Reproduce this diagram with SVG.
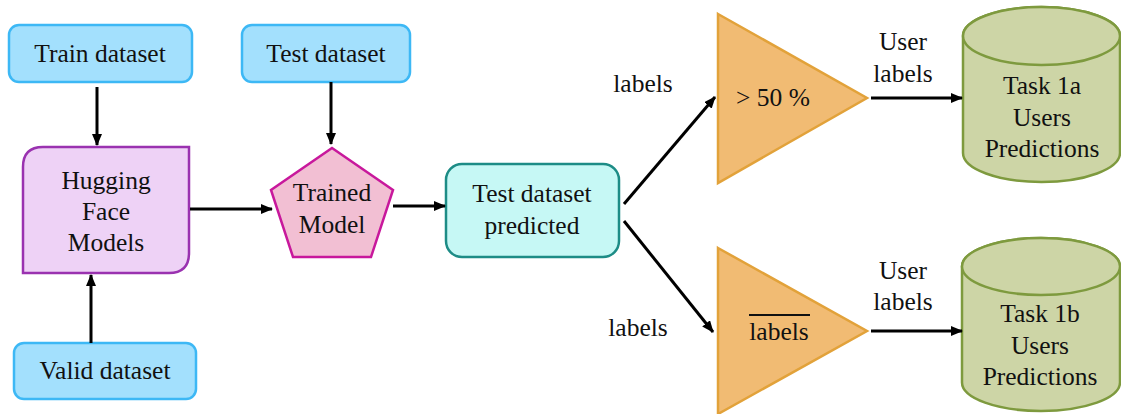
<svg xmlns="http://www.w3.org/2000/svg" width="1121" height="414" viewBox="0 0 1121 414">
  <defs>
    <marker id="arrow" viewBox="0 0 12 10" refX="11" refY="5" markerWidth="12" markerHeight="10" markerUnits="userSpaceOnUse" orient="auto">
      <path d="M0,0 L12,5 L0,10 Z" fill="#000"/>
    </marker>
  </defs>
  <style>
    text { font-family: "Liberation Serif", "Times New Roman", serif; font-size: 25.5px; fill: #111; text-anchor: middle; }
    .data { fill: #a3e0fd; stroke: #3db8f5; stroke-width: 2.5; }
    .hf { fill: #eed2f6; stroke: #9a32b0; stroke-width: 2.5; }
    .model { fill: #f2bfd3; stroke: #c8189c; stroke-width: 2.5; }
    .pred { fill: #c6f8f5; stroke: #1d8c86; stroke-width: 2.5; }
    .filter { fill: #f1bb73; stroke: #e2a23a; stroke-width: 2.5; }
    .db { fill: #cdd5a6; stroke: #7e9a3e; stroke-width: 2.5; }
    .conn line { stroke: #000; stroke-width: 3; marker-end: url(#arrow); }
  </style>

  <rect width="1121" height="414" fill="#fff"/>

  <g id="train">
    <rect class="data" x="9" y="25" width="183" height="57" rx="10"/>
    <text x="100" y="62">Train dataset</text>
  </g>

  <g id="test">
    <rect class="data" x="242" y="25" width="168" height="57" rx="10"/>
    <text x="326" y="62">Test dataset</text>
  </g>

  <g id="valid">
    <rect class="data" x="14" y="343" width="182" height="56" rx="10"/>
    <text x="105" y="379">Valid dataset</text>
  </g>

  <g id="hugging-face">
    <path class="hf" d="M43,147 H189 V253 Q189,273 169,273 H23 V167 Q23,147 43,147 Z"/>
    <text x="106" y="189">Hugging</text>
    <text x="106" y="220">Face</text>
    <text x="106" y="251">Models</text>
  </g>

  <g id="trained-model">
    <polygon class="model" points="332,148 393,190 371,257 293,257 271,190"/>
    <text x="332" y="201">Trained</text>
    <text x="332" y="233">Model</text>
  </g>

  <g id="predicted">
    <rect class="pred" x="446" y="164" width="173" height="93" rx="16"/>
    <text x="532" y="202">Test dataset</text>
    <text x="532" y="234">predicted</text>
  </g>

  <g id="filter-majority">
    <polygon class="filter" points="718,14 867,98 718,183"/>
    <text x="773" y="106">&gt; 50 %</text>
  </g>

  <g id="filter-complement">
    <polygon class="filter" points="718,248 867,331 718,414"/>
    <text x="779" y="340">labels</text>
    <line x1="749" y1="315" x2="810" y2="315" stroke="#111" stroke-width="2"/>
  </g>

  <g id="task-1a">
    <path class="db" d="M963,36 V153 A78.5,29 0 0 0 1120,153 V36 A78.5,29 0 0 0 963,36 Z"/>
    <ellipse class="db" cx="1041.5" cy="36" rx="78.5" ry="29"/>
    <text x="1042" y="94">Task 1a</text>
    <text x="1042" y="126">Users</text>
    <text x="1042" y="157">Predictions</text>
  </g>

  <g id="task-1b">
    <path class="db" d="M962,266.5 V382.5 A79,28.5 0 0 0 1120,382.5 V266.5 A79,28.5 0 0 0 962,266.5 Z"/>
    <ellipse class="db" cx="1041" cy="266.5" rx="79" ry="28.5"/>
    <text x="1040" y="322">Task 1b</text>
    <text x="1040" y="354">Users</text>
    <text x="1040" y="385">Predictions</text>
  </g>

  <g class="conn" id="connectors">
    <line x1="97" y1="87" x2="97" y2="145"/>
    <line x1="331" y1="82" x2="331" y2="144"/>
    <line x1="91" y1="343" x2="91" y2="275"/>
    <line x1="190" y1="209" x2="272" y2="209"/>
    <line x1="393" y1="206" x2="445" y2="206"/>
    <line x1="624" y1="204" x2="715" y2="97"/>
    <line x1="624" y1="221" x2="713" y2="332"/>
    <line x1="871" y1="98" x2="962" y2="98"/>
    <line x1="871" y1="331" x2="962" y2="331"/>
  </g>

  <g id="connector-labels">
    <text x="643" y="92">labels</text>
    <text x="638" y="336">labels</text>
    <text x="903" y="50">User</text>
    <text x="903" y="82">labels</text>
    <text x="903" y="279">User</text>
    <text x="903" y="310">labels</text>
  </g>
</svg>
